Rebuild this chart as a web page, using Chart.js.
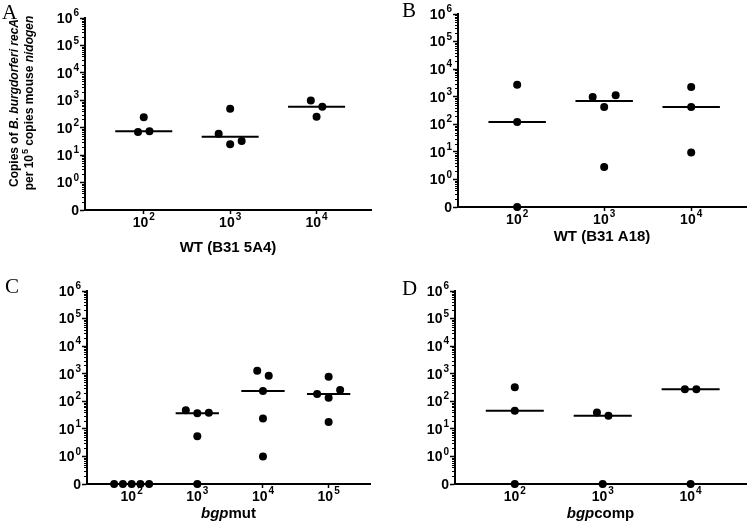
<!DOCTYPE html>
<html>
<head>
<meta charset="utf-8">
<script src="https://cdn.jsdelivr.net/npm/chart.js@4.4.1/dist/chart.umd.min.js"></script>
<style>
  body { margin: 0; background: #fff; }
  #wrap { position: relative; width: 750px; height: 532px; }
  .panel { position: absolute; width: 375px; height: 266px; }
</style>
</head>
<body>
<div id="wrap">
  <div class="panel" style="left:0;top:0"><canvas id="cA" width="375" height="266"></canvas></div>
  <div class="panel" style="left:375px;top:0"><canvas id="cB" width="375" height="266"></canvas></div>
  <div class="panel" style="left:0;top:266px"><canvas id="cC" width="375" height="266"></canvas></div>
  <div class="panel" style="left:375px;top:266px"><canvas id="cD" width="375" height="266"></canvas></div>
</div>
<script>
// --- tick labels ("^" = superscript) ---
const yTickLabels = ['0', '10^0', '10^1', '10^2', '10^3', '10^4', '10^5', '10^6'];
const cats3 = ['10^2', '10^3', '10^4'];
const cats4 = ['10^2', '10^3', '10^4', '10^5'];

// --- copies of recA per 10^5 nidogen, one array per inoculum (0 = not detected) ---
const wt5A4_1e2 = [240, 70, 75];
const wt5A4_1e3 = [490, 60, 25, 33];
const wt5A4_1e4 = [980, 580, 250];

const wtA18_1e2 = [2700, 120, 0];
const wtA18_1e3 = [975, 420, 1120, 2.8];
const wtA18_1e4 = [2250, 420, 9.4];

const mut_1e2 = [0, 0, 0, 0, 0];
const mut_1e3 = [47, 37, 38, 5.4, 0];
const mut_1e4 = [1290, 850, 237, 23.6, 1];
const mut_1e5 = [183, 134, 257, 780, 17.8];

const comp_1e2 = [324, 45, 0];
const comp_1e3 = [39, 30, 0];
const comp_1e4 = [275, 275, 0];

const FONT = '"Liberation Sans", Arial, sans-serif';

// 0 sits one decade under 10^0
function toLog(v) { return v > 0 ? Math.log10(v) : -1; }

function median(vals) {
    const s = [...vals].sort((a, b) => a - b);
    const m = Math.floor(s.length / 2);
    return s.length % 2 ? s[m] : (s[m - 1] + s[m]) / 2;
}

// spread points with close values side by side (like a scatter dot plot)
function spread(vals) {
    const order = vals.map((v, i) => i).sort((a, b) => toLog(vals[b]) - toLog(vals[a]));
    const dx = new Array(vals.length).fill(0);
    let g = [];
    const flush = () => {
        if (!g.length) return;
        const step = g.length > 1 ? Math.min(11.5, 35 / (g.length - 1)) : 0;
        g.sort((a, b) => a - b).forEach((i, k) => { dx[i] = (k - (g.length - 1) / 2) * step; });
        g = [];
    };
    order.forEach(i => {
        if (g.length && toLog(vals[g[0]]) - toLog(vals[i]) > 0.45) flush();
        g.push(i);
    });
    flush();
    return dx;
}

// shift points sideways in pixels after the scales placed them
const jitterPlugin = {
    id: 'jitter',
    afterDatasetsUpdate(chart) {
        chart.data.datasets.forEach((ds, i) => {
            if (!ds.dx) return;
            chart.getDatasetMeta(i).data.forEach((el, j) => { el.x += ds.dx[j]; });
        });
    }
};

// text made of [string, style] pieces: 0 normal, 1 italic, 2 superscript
function richText(ctx, segs, x, cy, size, align) {
    const fontOf = s => `${s[1] === 1 ? 'italic ' : ''}bold ${s[1] === 2 ? Math.round(size * 0.72) : size}px ${FONT}`;
    let w = 0;
    segs.forEach(s => { ctx.font = fontOf(s); w += ctx.measureText(s[0]).width + (s[1] === 2 ? 1 : 0); });
    if (align === 'center') x -= w / 2;
    if (align === 'right') x -= w;
    ctx.textAlign = 'left';
    ctx.textBaseline = 'middle';
    segs.forEach(s => {
        ctx.font = fontOf(s);
        if (s[1] === 2) x += 1;
        ctx.fillText(s[0], x, s[1] === 2 ? cy - size * 0.4 : cy);
        x += ctx.measureText(s[0]).width;
    });
}

function tickSegs(label) {
    const parts = label.split('^');
    return parts.length > 1 ? [[parts[0], 0], [parts[1], 2]] : [[parts[0], 0]];
}

// minor log ticks, tick labels, panel letter, axis titles
const decorPlugin = {
    id: 'decor',
    afterDraw(chart, args, opts) {
        const ctx = chart.ctx, xs = chart.scales.x, ys = chart.scales.y, area = chart.chartArea;
        ctx.save();
        ctx.strokeStyle = '#000';
        ctx.fillStyle = '#000';
        ctx.lineWidth = 1;
        ctx.beginPath();
        for (let d = -1; d < 6; d++) {
            for (let k = 2; k < 10; k++) {
                const py = Math.round(ys.getPixelForValue(d + Math.log10(k))) + 0.5;
                ctx.moveTo(area.left - 3, py);
                ctx.lineTo(area.left, py);
            }
        }
        ctx.stroke();

        ys.ticks.forEach(t => richText(ctx, tickSegs(yTickLabels[t.value + 1]),
            area.left - 6, ys.getPixelForValue(t.value) + 1, 14, 'right'));
        xs.ticks.forEach(t => richText(ctx, tickSegs(opts.cats[t.value]),
            xs.getPixelForValue(t.value), area.bottom + 13, 14, 'center'));

        ctx.font = `21px "Liberation Serif", "Times New Roman", serif`;
        ctx.textAlign = 'left';
        ctx.textBaseline = 'alphabetic';
        ctx.fillText(opts.letter, opts.letterX, opts.letterY);
        richText(ctx, opts.xTitle, (area.left + area.right) / 2, opts.xTitleY, 15, 'center');
        if (opts.yTitle) {
            ctx.translate(0, opts.yTitleY);
            ctx.rotate(-Math.PI / 2);
            opts.yTitle.forEach((line, i) => richText(ctx, line, 0, opts.yTitleX[i], 12, 'center'));
        }
        ctx.restore();
    }
};

const panels = [
    { id: 'cA', cats: cats3, groups: [wt5A4_1e2, wt5A4_1e3, wt5A4_1e4],
      left: 85, top: 18, bottom: 210, right: 372,
      decor: { letter: 'A', letterX: 2, letterY: 19, xTitleY: 248, xTitle: [['WT (B31 5A4)', 0]],
               yTitleY: 103, yTitleX: [15, 30],
               yTitle: [[['Copies of ', 0], ['B. burgdorferi recA', 1]],
                        [['per 10', 0], ['5', 2], [' copies mouse ', 0], ['nidogen', 1]]] } },
    { id: 'cB', cats: cats3, groups: [wtA18_1e2, wtA18_1e3, wtA18_1e4],
      left: 83, top: 14, bottom: 207, right: 373,
      decor: { letter: 'B', letterX: 27, letterY: 17, xTitleY: 237, xTitle: [['WT (B31 A18)', 0]] } },
    { id: 'cC', cats: cats4, groups: [mut_1e2, mut_1e3, mut_1e4, mut_1e5],
      left: 87, top: 25, bottom: 218, right: 370,
      decor: { letter: 'C', letterX: 5, letterY: 27, xTitleY: 248, xTitle: [['bgp', 1], ['mut', 0]] } },
    { id: 'cD', cats: cats3, groups: [comp_1e2, comp_1e3, comp_1e4],
      left: 80, top: 25, bottom: 218, right: 372,
      decor: { letter: 'D', letterX: 27, letterY: 29, xTitleY: 248, xTitle: [['bgp', 1], ['comp', 0]] } }
];

Chart.defaults.font.family = FONT;
Chart.defaults.font.weight = 'bold';
Chart.defaults.font.size = 14;
Chart.defaults.color = '#000';

panels.forEach(p => {
    p.decor.cats = p.cats;
    const datasets = [];
    p.groups.forEach((vals, i) => {
        const m = toLog(median(vals));
        datasets.push({
            type: 'line',
            data: [{ x: i - 0.33, y: m }, { x: i + 0.33, y: m }],
            borderColor: '#000', borderWidth: 2, pointRadius: 0, clip: false
        });
        datasets.push({
            type: 'scatter',
            data: vals.map(v => ({ x: i, y: toLog(v) })),
            dx: spread(vals),
            backgroundColor: '#000', borderColor: '#000',
            pointRadius: 4, borderWidth: 0, clip: false
        });
    });

    new Chart(document.getElementById(p.id), {
        type: 'scatter',
        data: { datasets },
        plugins: [jitterPlugin, decorPlugin],
        options: {
            responsive: false,
            animation: false,
            events: [],
            layout: { padding: { left: 0, top: p.top, right: 375 - p.right, bottom: 0 } },
            plugins: { legend: { display: false }, tooltip: { enabled: false }, decor: p.decor },
            scales: {
                x: {
                    type: 'linear', min: -0.68, max: p.cats.length - 0.37,
                    afterFit: s => { s.height = 266 - p.bottom; },
                    afterBuildTicks: s => { s.ticks = p.cats.map((c, i) => ({ value: i })); },
                    ticks: { display: false },
                    grid: { drawOnChartArea: false, tickLength: 4, tickWidth: 1.5, color: '#000' },
                    border: { color: '#000', width: 2 }
                },
                y: {
                    type: 'linear', min: -1, max: 6,
                    afterFit: s => { s.width = p.left; },
                    afterBuildTicks: s => { s.ticks = yTickLabels.map((t, i) => ({ value: i - 1 })); },
                    ticks: { display: false },
                    grid: { drawOnChartArea: false, tickLength: 5, tickWidth: 1.5, color: '#000' },
                    border: { color: '#000', width: 2 }
                }
            }
        }
    });
});
</script>
</body>
</html>
